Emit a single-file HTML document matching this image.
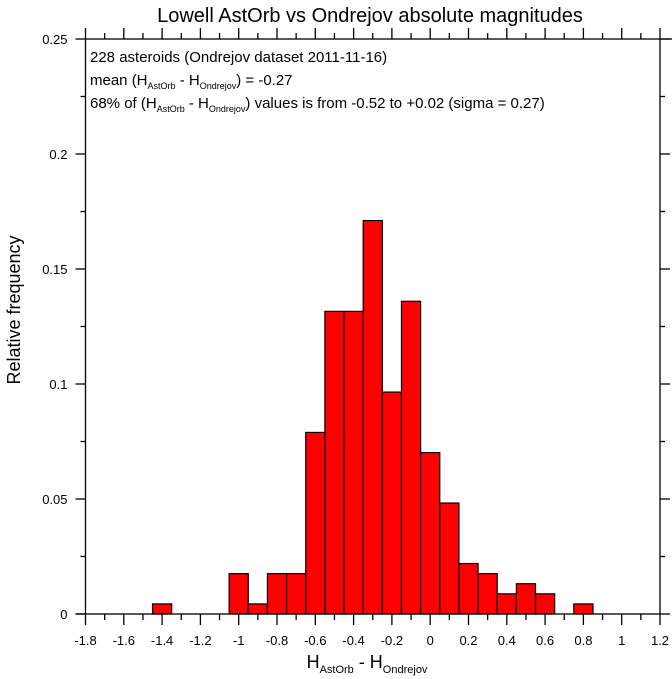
<!DOCTYPE html>
<html><head><meta charset="utf-8"><style>
body{margin:0;background:#fff;}
svg{display:block;font-family:"Liberation Sans",Arial,sans-serif;}
</style></head><body>
<svg width="672" height="679" id="chart">
<text x="370" y="22" font-size="20" text-anchor="middle">Lowell AstOrb vs Ondrejov absolute magnitudes</text>
<g id="bars"></g>
<g id="axes" stroke="#000" stroke-width="1.3"></g>
<g id="labels" font-size="13"></g>
<g font-size="15">
<text x="90" y="62">228 asteroids (Ondrejov dataset 2011-11-16)</text>
<text x="90" y="85">mean (H<tspan font-size="9" dy="4">AstOrb</tspan><tspan dy="-4"> - H</tspan><tspan font-size="9" dy="4">Ondrejov</tspan><tspan dy="-4">) = -0.27</tspan></text>
<text x="90" y="108">68% of (H<tspan font-size="9" dy="4">AstOrb</tspan><tspan dy="-4"> - H</tspan><tspan font-size="9" dy="4">Ondrejov</tspan><tspan dy="-4">) values is from -0.52 to +0.02 (sigma = 0.27)</tspan></text>
</g>
<text transform="translate(20,310) rotate(-90)" font-size="18" text-anchor="middle">Relative frequency</text>
<text x="367" y="668" font-size="18" text-anchor="middle">H<tspan font-size="11" dy="5">AstOrb</tspan><tspan dy="-5"> - H</tspan><tspan font-size="11" dy="5">Ondrejov</tspan></text>
</svg>
<script>
const binCenters=[-1.4,-1.0,-0.9,-0.8,-0.7,-0.6,-0.5,-0.4,-0.3,-0.2,-0.1,0.0,0.1,0.2,0.3,0.4,0.5,0.6,0.8];
const counts=[1,4,1,4,4,18,30,30,39,22,31,16,11,5,4,2,3,2,1];
const total=228;
const binWidth=0.1;
const xTicks=[-1.8,-1.6,-1.4,-1.2,-1,-0.8,-0.6,-0.4,-0.2,0,0.2,0.4,0.6,0.8,1,1.2];
const yTicks=[0,0.05,0.1,0.15,0.2,0.25];
const yTickLabels=["0","0.05","0.1","0.15","0.2","0.25"];
const X0=85.5,X1=660,Y0=614,Y1=39,xmin=-1.8,xmax=1.2,ymax=0.25;
const sx=v=>X0+(v-xmin)/(xmax-xmin)*(X1-X0);
const sy=v=>Y0-v/ymax*(Y0-Y1);
const NS="http://www.w3.org/2000/svg";
function mk(t,a,p){const e=document.createElementNS(NS,t);for(const k in a)e.setAttribute(k,a[k]);p.appendChild(e);return e;}
const bars=document.getElementById('bars');
binCenters.forEach((c,i)=>{
 const v=counts[i]/total;
 const r=mk('rect',{x:sx(c-binWidth/2),y:sy(v),width:sx(c+binWidth/2)-sx(c-binWidth/2),height:sy(0)-sy(v),fill:'#ff0000',stroke:'#000','stroke-width':1.2},bars);
 
 
});
const ax=document.getElementById('axes');
const frame=mk('rect',{x:X0,y:Y1,width:X1-X0,height:Y0-Y1,fill:'none'},ax);


mk('line',{x1:X0-10,y1:Y0,x2:X0,y2:Y0},ax);
mk('line',{x1:X1,y1:Y1,x2:X1+12,y2:Y1},ax);
for(let k=0;k<=30;k++){
 const v=xmin+k*0.1;const x=sx(v);const major=k%2===0;
 mk('line',{x1:x,y1:Y0,x2:x,y2:Y0+(major?11:6)},ax);
 mk('line',{x1:x,y1:Y1,x2:x,y2:Y1-(major?11:6)},ax);
}
for(let k=0;k<=10;k++){
 const y=sy(k*0.025);const major=k%2===0;
 mk('line',{x1:X0,y1:y,x2:X0-(major?10:5),y2:y},ax);
 mk('line',{x1:X1,y1:y,x2:X1+(major?10:5),y2:y},ax);
}
const lb=document.getElementById('labels');
xTicks.forEach(v=>{
 const t=mk('text',{x:sx(v),y:Y0+31,'text-anchor':'middle'},lb);
 t.textContent=String(Math.round(v*10)/10);
 
 
});
yTicks.forEach((v,i)=>{
 const t=mk('text',{x:X0-18,y:sy(v)+5,'text-anchor':'end'},lb);
 t.textContent=yTickLabels[i];
 
 
});
</script>
</body></html>
